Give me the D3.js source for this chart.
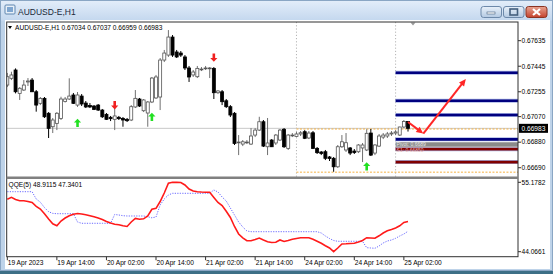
<!DOCTYPE html>
<html>
<head>
<meta charset="utf-8">
<title>AUDUSD-E,H1</title>
<script src="https://d3js.org/d3.v7.min.js"></script>
<style>
  html, body { margin: 0; padding: 0; width: 553px; height: 274px; overflow: hidden; background: #bed3e9; }
  svg text { font-family: "Liberation Sans", Arial, sans-serif; }
</style>
</head>
<body>
<script>
// hourly bars, 19 Apr 02:00 .. 25 Apr 03:00
var opens = [0.67305,0.67355,0.67417,0.67243,0.67268,0.67328,0.67342,0.67255,0.67169,0.67206,
  0.67095,0.66995,0.67020,0.67057,0.67182,0.67201,0.67231,0.67156,0.67223,0.67171,
  0.67153,0.67149,0.67156,0.67119,0.67087,0.67065,0.67050,0.67065,0.67057,0.67050,
  0.67045,0.67142,0.67201,0.67114,0.67097,0.67179,0.67209,0.67216,0.67491,0.67528,
  0.67662,0.67551,0.67543,0.67514,0.67432,0.67380,0.67367,0.67421,0.67428,0.67428,
  0.67429,0.67248,0.67255,0.67188,0.67144,0.67095,0.66877,0.66866,0.66877,0.66866,
  0.66933,0.66970,0.67032,0.66846,0.66896,0.66874,0.66896,0.66976,0.66834,0.66931,
  0.66922,0.66941,0.66958,0.66911,0.66950,0.66834,0.66807,0.66809,0.66770,0.66760,
  0.66697,0.66846,0.66822,0.66837,0.66814,0.66809,0.66837,0.66822,0.66948,0.66799,
  0.66851,0.66918,0.66926,0.66941,0.66948,0.66933,0.66993,0.67034];
var highs = [0.67395,0.67404,0.67429,0.67290,0.67342,0.67357,0.67357,0.67268,0.67216,0.67216,
  0.67104,0.67060,0.67104,0.67218,0.67216,0.67355,0.67246,0.67253,0.67238,0.67186,
  0.67171,0.67156,0.67164,0.67127,0.67097,0.67075,0.67144,0.67075,0.67067,0.67060,
  0.67156,0.67268,0.67209,0.67201,0.67186,0.67365,0.67380,0.67506,0.67566,0.67714,
  0.67677,0.67566,0.67558,0.67528,0.67447,0.67417,0.67447,0.67439,0.67447,0.67439,
  0.67439,0.67268,0.67268,0.67201,0.67156,0.67104,0.66933,0.66896,0.66896,0.66985,
  0.66985,0.67069,0.67045,0.67060,0.66903,0.66941,0.66978,0.66985,0.66941,0.66948,
  0.66956,0.66963,0.66970,0.66963,0.66963,0.66844,0.66814,0.66822,0.66777,0.66770,
  0.66859,0.66933,0.66948,0.66844,0.66829,0.66866,0.66874,0.66976,0.66978,0.66866,
  0.66941,0.66948,0.66956,0.66963,0.66970,0.66995,0.67045,0.67037];
var lows = [0.67290,0.67342,0.67243,0.67194,0.67261,0.67298,0.67253,0.67107,0.67156,0.67060,
  0.66911,0.66948,0.66970,0.67045,0.67175,0.67194,0.67164,0.67142,0.67149,0.67134,
  0.67134,0.67119,0.67112,0.67060,0.67045,0.67037,0.66970,0.67045,0.66995,0.67030,
  0.67037,0.67134,0.67142,0.67104,0.66995,0.67171,0.67201,0.67119,0.67476,0.67514,
  0.67514,0.67506,0.67514,0.67417,0.67328,0.67365,0.67357,0.67409,0.67417,0.67357,
  0.67201,0.67238,0.67156,0.67134,0.67067,0.66859,0.66784,0.66851,0.66866,0.66859,
  0.66918,0.66963,0.66844,0.66784,0.66844,0.66859,0.66889,0.66837,0.66822,0.66918,
  0.66918,0.66926,0.66903,0.66903,0.66829,0.66792,0.66784,0.66747,0.66740,0.66660,
  0.66688,0.66837,0.66807,0.66784,0.66792,0.66799,0.66732,0.66814,0.66777,0.66784,
  0.66844,0.66903,0.66911,0.66926,0.66933,0.66926,0.66985,0.66959];
var closes = [0.67367,0.67380,0.67255,0.67281,0.67305,0.67335,0.67255,0.67156,0.67206,0.67069,
  0.66983,0.67045,0.67095,0.67201,0.67201,0.67223,0.67169,0.67231,0.67164,0.67142,
  0.67142,0.67124,0.67119,0.67069,0.67050,0.67055,0.67075,0.67055,0.67045,0.67040,
  0.67144,0.67206,0.67149,0.67194,0.67179,0.67357,0.67365,0.67491,0.67543,0.67662,
  0.67528,0.67514,0.67528,0.67432,0.67365,0.67402,0.67429,0.67424,0.67432,0.67432,
  0.67248,0.67261,0.67181,0.67144,0.67082,0.66871,0.66881,0.66883,0.66881,0.66926,
  0.66970,0.67032,0.66851,0.66874,0.66846,0.66933,0.66970,0.66846,0.66933,0.66933,
  0.66941,0.66950,0.66909,0.66948,0.66834,0.66802,0.66796,0.66760,0.66758,0.66697,
  0.66846,0.66883,0.66876,0.66799,0.66803,0.66859,0.66859,0.66946,0.66784,0.66859,
  0.66926,0.66933,0.66941,0.66948,0.66956,0.66993,0.67034,0.66983];

// QQE(5): smoothed rsi and trailing line
var qqeRsi = [52.456,52.777,52.424,52.232,52.232,52.104,51.944,51.336,50.903,50.135,
  49.302,48.534,48.230,48.982,49.462,49.831,50.055,50.183,50.103,49.975,
  49.815,49.655,49.462,49.222,48.902,48.662,48.470,48.374,48.214,48.102,
  48.822,49.398,49.270,49.334,49.783,50.855,50.999,52.104,53.465,55.018,
  55.178,55.160,55.146,54.746,54.105,53.785,53.673,53.625,53.593,53.577,
  52.744,51.944,51.464,50.535,49.542,48.102,46.901,46.292,45.828,45.828,
  46.020,46.260,45.940,45.668,45.540,45.572,45.940,45.700,45.860,46.052,
  46.180,46.308,46.308,46.308,46.068,45.732,45.412,45.012,44.659,44.066,
  44.659,45.300,45.332,45.380,45.428,45.620,45.860,46.308,46.260,46.212,
  46.613,47.061,47.413,47.621,47.861,48.214,48.742,48.9115];
var qqeTrail = [53.673,53.673,53.673,53.673,53.673,53.673,53.673,52.504,51.992,51.127,
  50.471,50.199,50.151,50.151,50.151,50.151,50.151,48.822,48.614,48.614,
  48.614,48.614,48.614,48.614,48.614,48.614,50.023,49.943,49.831,49.783,
  49.783,49.783,49.783,49.783,49.655,49.494,49.623,51.544,52.504,53.145,
  53.417,53.417,53.417,53.417,53.417,53.417,53.417,53.417,53.417,53.417,
  53.945,53.625,52.825,52.184,51.063,49.943,48.822,48.022,47.381,47.269,
  47.269,47.269,47.269,47.269,47.269,47.269,47.269,47.269,47.269,47.269,
  47.269,47.269,47.269,47.269,47.269,47.269,47.061,46.581,46.180,45.860,
  45.732,45.732,45.732,45.732,45.732,45.732,45.732,44.707,44.659,44.611,
  44.980,45.460,45.780,45.940,46.212,46.581,46.901,47.3401];
var qqeMax = 55.1782, qqeMin = 44.0661;

var timeLabels = ["19 Apr 2023", "19 Apr 14:00", "20 Apr 02:00", "20 Apr 14:00", "21 Apr 02:00",
  "21 Apr 14:00", "24 Apr 02:00", "24 Apr 14:00", "25 Apr 02:00"];
var timeLabelBars = [0, 12, 24, 36, 48, 60, 72, 84, 96];
var priceTicks = [0.67635, 0.67445, 0.67255, 0.67070, 0.66880, 0.66690];
var daySeparatorBars = [70, 94];

// signal arrows
var upBars = [17, 35, 87], upPrices = [0.67022, 0.67067, 0.66699];
var downBars = [26, 50], downPrices = [0.67156, 0.67510];

// levels for the current day
var levelNames = ["R3", "R2", "R1", "M", "PP", "S1", "S2"];
var levelPrices = [0.67397, 0.67188, 0.67082, 0.66901, 0.66863, 0.66828, 0.66732];
var levelStartBar = 94;
var rangeNames = ["High", "Low"];
var rangePrices = [0.66978, 0.66657];
var rangeStartBar = 70;

// forecast path
var forecastBars = [97, 100.7, 111];
var forecastPrices = [0.67030, 0.66944, 0.67350];

var lastPrice = closes[closes.length - 1];

var L = 6.7, R = 518, mainTop = 22, mainBot = 177, indTop = 179, indBot = 256.7;

var svg = d3.select("body").append("svg")
  .attr("width", 553).attr("height", 274);

var defs = svg.append("defs");
var tg = defs.append("linearGradient").attr("id", "titleg").attr("x1", 0).attr("y1", 0).attr("x2", 0).attr("y2", 1);
tg.append("stop").attr("offset", "0%").attr("stop-color", "#e4eefa");
tg.append("stop").attr("offset", "100%").attr("stop-color", "#c3d7ee");
var bg = defs.append("linearGradient").attr("id", "btng").attr("x1", 0).attr("y1", 0).attr("x2", 0).attr("y2", 1);
bg.append("stop").attr("offset", "0%").attr("stop-color", "#e9f1fa");
bg.append("stop").attr("offset", "100%").attr("stop-color", "#b3c9e2");
var cg = defs.append("linearGradient").attr("id", "closeg").attr("x1", 0).attr("y1", 0).attr("x2", 0).attr("y2", 1);
cg.append("stop").attr("offset", "0%").attr("stop-color", "#e9a592");
cg.append("stop").attr("offset", "100%").attr("stop-color", "#c4412d");
defs.append("clipPath").attr("id", "mainclip").append("rect")
  .attr("x", L).attr("y", mainTop).attr("width", R - L).attr("height", mainBot - mainTop);

// window chrome
svg.append("rect").attr("x", 0).attr("y", 0).attr("width", 553).attr("height", 21).attr("fill", "url(#titleg)");
svg.append("rect").attr("x", 5).attr("y", 20).attr("width", 545).attr("height", 249).attr("fill", "#fff");
svg.append("rect").attr("x", 0).attr("y", 270).attr("width", 553).attr("height", 4).attr("fill", "#3d6f86");
svg.append("rect").attr("x", 0.5).attr("y", 0.5).attr("width", 552).attr("height", 270)
  .attr("fill", "none").attr("stroke", "#8aa6c4");

// title icon + text
var icon = svg.append("g").attr("transform", "translate(5,5)");
icon.append("rect").attr("width", 10).attr("height", 9).attr("rx", 1).attr("fill", "#e8f0f8").attr("stroke", "#5f86b0");
icon.append("rect").attr("x", 2).attr("y", 2).attr("width", 6).attr("height", 5).attr("fill", "#7fa6d0");
svg.append("text").attr("x", 18).attr("y", 14.5).attr("font-size", 8.5).attr("fill", "#1b2a3a").text("AUDUSD-E,H1");

// title buttons
[[481, "min"], [503.5, "max"]].forEach(function (b) {
  svg.append("rect").attr("x", b[0]).attr("y", 6.5).attr("width", 20.5).attr("height", 11).attr("rx", 2.5)
    .attr("fill", "url(#btng)").attr("stroke", "#6d89aa");
});
svg.append("rect").attr("x", 487).attr("y", 12).attr("width", 8).attr("height", 2).attr("fill", "#fff").attr("stroke", "#45607e").attr("stroke-width", 0.6);
svg.append("rect").attr("x", 510).attr("y", 9).attr("width", 7.5).attr("height", 6).attr("fill", "none").attr("stroke", "#45607e").attr("stroke-width", 1.6);
svg.append("rect").attr("x", 526).attr("y", 6.5).attr("width", 21).attr("height", 11).attr("rx", 2.5)
  .attr("fill", "url(#closeg)").attr("stroke", "#8a3322");
svg.append("path").attr("d", "M533,9 L540,15 M540,9 L533,15").attr("stroke", "#fff").attr("stroke-width", 2.2);

// scales
var x = d3.scaleLinear().domain([0, 97]).range([7.3, 408]);
var y = d3.scaleLinear().domain([0.66621, 0.67774]).range([mainBot, mainTop]);
var yq = d3.scaleLinear().domain([qqeMin, qqeMax]).range([251.7, 182.3]);

var main = svg.append("g").attr("clip-path", "url(#mainclip)");

// day separators
main.selectAll(".sep").data(daySeparatorBars).enter().append("line")
  .attr("x1", function (d) { return x(d); }).attr("x2", function (d) { return x(d); })
  .attr("y1", mainTop).attr("y2", mainBot)
  .attr("stroke", "#b4b4b4").attr("stroke-width", 1).attr("stroke-dasharray", "1.2 2");

// bid line
main.append("line").attr("x1", L).attr("x2", R).attr("y1", y(lastPrice)).attr("y2", y(lastPrice))
  .attr("stroke", "#c8c8c8").attr("stroke-width", 1);

// day range
main.selectAll(".rng").data(rangePrices).enter().append("line")
  .attr("x1", x(rangeStartBar)).attr("x2", R)
  .attr("y1", function (d) { return y(d); }).attr("y2", function (d) { return y(d); })
  .attr("stroke", "#f5b041").attr("stroke-width", 1).attr("stroke-dasharray", "2 1.5");

// level lines
var levelColor = { R3: "#00007f", R2: "#00007f", R1: "#00007f", M: "#00007f", PP: "#8a8a8a", S1: "#800000", S2: "#800000" };
var levelWidth = { R3: 2.6, R2: 2.6, R1: 2.6, M: 2.6, PP: 4.5, S1: 2.6, S2: 2.6 };
main.selectAll(".lvh").data(levelNames).enter().append("line")
  .attr("x1", x(levelStartBar)).attr("x2", R)
  .attr("y1", function (d, i) { return y(levelPrices[i]); }).attr("y2", function (d, i) { return y(levelPrices[i]); })
  .attr("stroke", function (d) { return levelColor[d] === "#8a8a8a" ? "none" : "#aab6e6"; })
  .attr("stroke-width", function (d) { return levelWidth[d] + 1.4; });
main.selectAll(".lv").data(levelNames).enter().append("line")
  .attr("x1", x(levelStartBar)).attr("x2", R)
  .attr("y1", function (d, i) { return y(levelPrices[i]); }).attr("y2", function (d, i) { return y(levelPrices[i]); })
  .attr("stroke", function (d) { return levelColor[d]; })
  .attr("stroke-width", function (d) { return levelWidth[d]; });
main.append("text").attr("x", x(levelStartBar) + 1).attr("y", y(levelPrices[4]) + 1.3)
  .attr("font-size", 5).attr("fill", "#e6e6e6").text("Pivot: 0.6689");
main.append("text").attr("x", x(levelStartBar) + 1).attr("y", y(levelPrices[5]) + 2.6)
  .attr("font-size", 5).attr("fill", "#e8b4b4").text("S1: 0.66850");

// candles
var bars = d3.range(opens.length);
main.selectAll(".wick").data(bars).enter().append("line")
  .attr("x1", function (i) { return x(i); }).attr("x2", function (i) { return x(i); })
  .attr("y1", function (i) { return y(highs[i]); }).attr("y2", function (i) { return y(lows[i]); })
  .attr("stroke", function (i) { return closes[i] >= opens[i] ? "#707070" : "#000"; })
  .attr("stroke-width", 1);
main.selectAll(".body").data(bars).enter().append("rect")
  .attr("x", function (i) { return x(i) - 1.5; })
  .attr("width", 3)
  .attr("y", function (i) { return y(Math.max(opens[i], closes[i])); })
  .attr("height", function (i) { return Math.max(0.8, Math.abs(y(opens[i]) - y(closes[i]))); })
  .attr("fill", function (i) { return closes[i] >= opens[i] ? "#fff" : "#000"; })
  .attr("stroke", function (i) { return closes[i] >= opens[i] ? "#555" : "#000"; })
  .attr("stroke-width", 0.8);

// signal arrows
function arrowPath(cx, cy, up) {
  var s = up ? 1 : -1;
  return "M" + (cx - 3.6) + "," + (cy - 0.5 * s) + " L" + cx + "," + (cy - 4.3 * s) + " L" + (cx + 3.6) + "," + (cy - 0.5 * s) +
    " L" + (cx + 1.3) + "," + (cy - 0.5 * s) + " L" + (cx + 1.3) + "," + (cy + 4 * s) + " L" + (cx - 1.3) + "," + (cy + 4 * s) +
    " L" + (cx - 1.3) + "," + (cy - 0.5 * s) + " Z";
}
main.selectAll(".up").data(upBars).enter().append("path")
  .attr("d", function (b, k) { return arrowPath(x(b), y(upPrices[k]), true); })
  .attr("fill", "#22e022");
main.selectAll(".dn").data(downBars).enter().append("path")
  .attr("d", function (b, k) { return arrowPath(x(b), y(downPrices[k]), false); })
  .attr("fill", "#f02020");

// forecast arrows
for (var k = 0; k < forecastBars.length - 1; k++) {
  var x0 = x(forecastBars[k]), y0 = y(forecastPrices[k]);
  var x1 = x(forecastBars[k + 1]), y1 = y(forecastPrices[k + 1]);
  var ang = Math.atan2(y1 - y0, x1 - x0);
  main.append("line").attr("x1", x0).attr("y1", y0)
    .attr("x2", x1 - 4 * Math.cos(ang)).attr("y2", y1 - 4 * Math.sin(ang))
    .attr("stroke", "#ff2626").attr("stroke-width", 2);
  var hx = x1, hy = y1, bl = 7, bw = 3.2;
  var bx = hx - bl * Math.cos(ang), by = hy - bl * Math.sin(ang);
  main.append("path").attr("d", "M" + hx + "," + hy +
    " L" + (bx + bw * Math.sin(ang)) + "," + (by - bw * Math.cos(ang)) +
    " L" + (bx - bw * Math.sin(ang)) + "," + (by + bw * Math.cos(ang)) + " Z")
    .attr("fill", "#ff2626");
}

// shift marker
svg.append("path").attr("d", "M410.5,22.5 L415.5,22.5 L413,25.5 Z").attr("fill", "#9a9a9a");

// header text
svg.append("path").attr("d", "M8,26 L12,26 L10,29 Z").attr("fill", "#000");
svg.append("text").attr("x", 15).attr("y", 30).attr("font-size", 6.6).attr("fill", "#000")
  .text("AUDUSD-E,H1  " + [opens[97], highs[97], lows[97], closes[97]].map(function (v) { return v.toFixed(5); }).join(" "));

// indicator
var line = d3.line().x(function (d, i) { return x(i); }).y(function (d) { return yq(d); });
svg.append("path").attr("d", line(qqeTrail)).attr("fill", "none")
  .attr("stroke", "#6a6aff").attr("stroke-width", 1).attr("stroke-dasharray", "1.2 1.3");
svg.append("path").attr("d", line(qqeRsi)).attr("fill", "none")
  .attr("stroke", "#ff1a1a").attr("stroke-width", 1.6);
svg.append("text").attr("x", 8.5).attr("y", 186.5).attr("font-size", 6.6).attr("fill", "#000")
  .text("QQE(5) " + qqeRsi[97].toFixed(4) + " " + qqeTrail[97].toFixed(4));

// frames
svg.append("rect").attr("x", L).attr("y", mainTop).attr("width", R - L).attr("height", indBot - mainTop)
  .attr("fill", "none").attr("stroke", "#303030").attr("stroke-width", 1);
svg.append("rect").attr("x", L).attr("y", mainBot - 0.5).attr("width", R - L).attr("height", 2.5).attr("fill", "#808080");

// price axis
var pa = svg.append("g");
pa.selectAll("line").data(priceTicks).enter().append("line")
  .attr("x1", R).attr("x2", R + 3).attr("y1", function (d) { return y(d); }).attr("y2", function (d) { return y(d); })
  .attr("stroke", "#303030");
pa.selectAll("text").data(priceTicks).enter().append("text")
  .attr("x", R + 3.5).attr("y", function (d) { return y(d) + 2.3; })
  .attr("font-size", 6.6).attr("fill", "#000").text(function (d) { return d.toFixed(5); });
pa.append("rect").attr("x", R + 1).attr("y", y(lastPrice) - 4.5).attr("width", 29).attr("height", 9).attr("fill", "#000");
pa.append("text").attr("x", R + 3.5).attr("y", y(lastPrice) + 2.3).attr("font-size", 6.6).attr("fill", "#fff")
  .text(lastPrice.toFixed(5));
[qqeMax, qqeMin].forEach(function (v) {
  pa.append("line").attr("x1", R).attr("x2", R + 3).attr("y1", yq(v)).attr("y2", yq(v)).attr("stroke", "#303030");
  pa.append("text").attr("x", R + 3.5).attr("y", yq(v) + 2.3).attr("font-size", 6.6).attr("fill", "#000").text(v.toFixed(4));
});

// time axis
var ta = svg.append("g");
ta.selectAll("line").data(timeLabelBars).enter().append("line")
  .attr("x1", function (b) { return x(b); }).attr("x2", function (b) { return x(b); })
  .attr("y1", indBot).attr("y2", indBot + 3.5).attr("stroke", "#303030");
ta.selectAll("text").data(timeLabelBars).enter().append("text")
  .attr("x", function (b) { return x(b) + 0.5; }).attr("y", 264.5)
  .attr("font-size", 6.6).attr("fill", "#000").text(function (b, k) { return timeLabels[k]; });
</script>
</body>
</html>
